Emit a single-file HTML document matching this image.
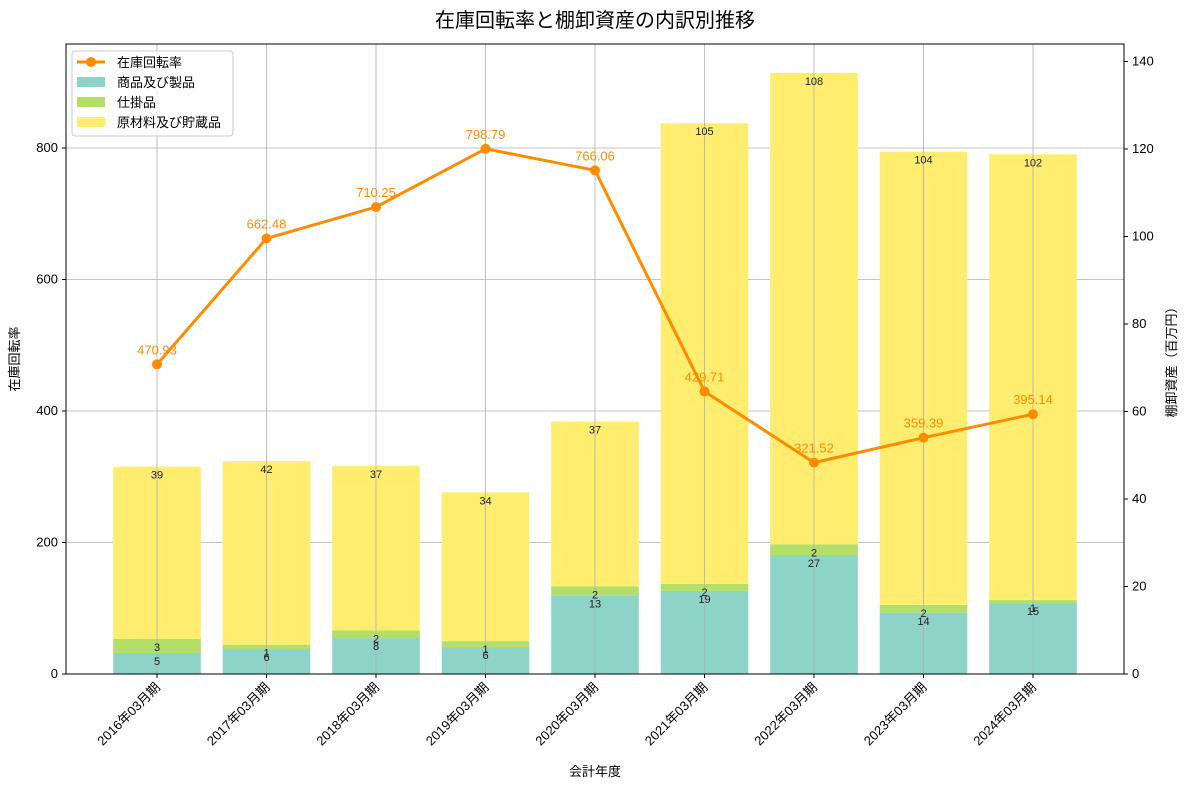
<!DOCTYPE html>
<html><head><meta charset="utf-8"><style>
body{margin:0;background:#fff;}
svg text{font-family:"Liberation Sans","Noto Sans CJK JP",sans-serif;}
</style></head><body>
<svg id="c" width="1190" height="789"></svg>
<script>
const categories=["2016年03月期","2017年03月期","2018年03月期","2019年03月期","2020年03月期","2021年03月期","2022年03月期","2023年03月期","2024年03月期"];
const turnover=[470.93,662.48,710.25,798.79,766.06,429.71,321.52,359.39,395.14];
const products=[4.8,5.7,8.2,6.2,18,19,27.2,14,16.2];
const wip=[3.2,1,1.8,1.3,2,1.6,2.4,1.8,0.7];
const materials=[39.4,42,37.6,34,37.7,105.3,107.8,103.6,101.9];
const productsLabels=["5","6","8","6","13","19","27","14","15"];
const wipLabels=["3","1","2","1","2","2","2","2","1"];
const materialsLabels=["39","42","37","34","37","105","108","104","102"];
const leftTicks=[0,200,400,600,800];
const rightTicks=[0,20,40,60,80,100,120,140];
const L=66,R=1124,T=44,B=674;
const xs=i=>157+109.5*i;
const yl=v=>B-v*(526/800);
const yr=v=>B-v*(525/120);
const svg=document.getElementById('c');
const NS="http://www.w3.org/2000/svg";
function mk(tag,attrs,parent){const e=document.createElementNS(NS,tag);for(const k in attrs)e.setAttribute(k,attrs[k]);(parent||svg).appendChild(e);return e;}
function tx(x,y,s,attrs){const e=mk('text',Object.assign({x:x,y:y},attrs));e.textContent=s;return e;}
// grid
leftTicks.forEach(v=>{const g=mk('line',{x1:L,x2:R,y1:yl(v),y2:yl(v),stroke:'#b0b0b0','stroke-width':0.8});});
// bars
const bw=87.6;
const series=[[products,'#8dd3c7',productsLabels],[wip,'#b3de69',wipLabels],[materials,'#ffed6f',materialsLabels]];
const names=['bar-products','bar-wip','bar-materials'];
categories.forEach((c,i)=>{let base=0;
 series.forEach((s,k)=>{const v=s[0][i];const y0=yr(base),y1=yr(base+v);
  const r=mk('rect',{x:xs(i)-bw/2,y:y1,width:bw,height:y0-y1,fill:s[1]});
  
  base+=v;});
});
categories.forEach((c,i)=>{const g=mk('line',{x1:xs(i),x2:xs(i),y1:T,y2:B,stroke:'#b0b0b0','stroke-width':0.8});});
categories.forEach((c,i)=>{let base=0;
 series.forEach((s,k)=>{const v=s[0][i];const t=tx(xs(i),yr(base+v)+12,s[2][i],{'font-size':11,'text-anchor':'middle',fill:'#222'});
  base+=v;});
});
// line
const pts=turnover.map((v,i)=>xs(i)+','+yl(v)).join(' ');
const pl=mk('polyline',{points:pts,fill:'none',stroke:'#ff8c00','stroke-width':3});

turnover.forEach((v,i)=>{const p=mk('circle',{cx:xs(i),cy:yl(v),r:5,fill:'#ff8c00'});
 
 const t=tx(xs(i),yl(v)-10,v.toFixed(2),{'font-size':13,'text-anchor':'middle',fill:'#ff8c00'});
 });
// frame
const fr=mk('rect',{x:L,y:T,width:R-L,height:B-T,fill:'none',stroke:'#000','stroke-width':1});

// ticks
leftTicks.forEach(v=>{mk('line',{x1:L-4,x2:L,y1:yl(v),y2:yl(v),stroke:'#000'});
 const t=tx(L-8,yl(v)+4,String(v),{'font-size':13,'text-anchor':'end'});});
rightTicks.forEach(v=>{mk('line',{x1:R,x2:R+4,y1:yr(v),y2:yr(v),stroke:'#000'});
 const t=tx(R+8,yr(v)+4,String(v),{'font-size':13});});
categories.forEach((c,i)=>{mk('line',{x1:xs(i),x2:xs(i),y1:B,y2:B+4,stroke:'#000'});
 const t=tx(xs(i)+4,B+14,c,{'font-size':13,'text-anchor':'end',transform:`rotate(-45 ${xs(i)+4} ${B+14})`});
 });
</script>
<svg width="0" height="0"></svg>
<div style="position:absolute;left:0;top:0;width:1190px;height:789px;pointer-events:none">
<svg width="1190" height="789" style="position:absolute;left:0;top:0">
<text x="595" y="27" font-size="20" text-anchor="middle" style="font-family:'Liberation Sans','Noto Sans CJK JP',sans-serif">在庫回転率と棚卸資産の内訳別推移</text>
<text x="595" y="776" font-size="13" text-anchor="middle" style="font-family:'Liberation Sans','Noto Sans CJK JP',sans-serif">会計年度</text>
<text x="19" y="359" font-size="13" text-anchor="middle" transform="rotate(-90 19 359)" style="font-family:'Liberation Sans','Noto Sans CJK JP',sans-serif">在庫回転率</text>
<text x="1176" y="359" font-size="13" text-anchor="middle" transform="rotate(-90 1176 359)" style="font-family:'Liberation Sans','Noto Sans CJK JP',sans-serif">棚卸資産（百万円）</text>
<g style="font-family:'Liberation Sans','Noto Sans CJK JP',sans-serif" font-size="13">
<rect x="72" y="51" width="161" height="85" rx="3" fill="#fff" fill-opacity="0.8" stroke="#ccc"/>
<line x1="77" y1="62" x2="105" y2="62" stroke="#ff8c00" stroke-width="3"/><circle cx="91" cy="62" r="5" fill="#ff8c00"/>
<text x="117" y="67">在庫回転率</text>
<rect x="77" y="77" width="28" height="10" fill="#8dd3c7"/><text x="117" y="87">商品及び製品</text>
<rect x="77" y="97" width="28" height="10" fill="#b3de69"/><text x="117" y="107">仕掛品</text>
<rect x="77" y="117" width="28" height="10" fill="#ffed6f"/><text x="117" y="127">原材料及び貯蔵品</text>
</g>
</svg></div>
</body></html>
